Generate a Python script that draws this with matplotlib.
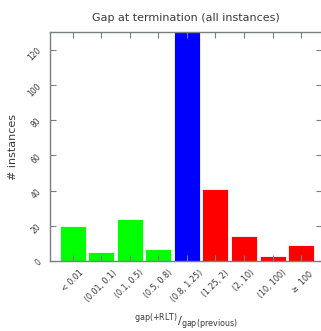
import matplotlib
matplotlib.use("Agg")
import matplotlib.pyplot as plt

# ratio bins of gap(+RLT)/gap(previous)
categories = ["< 0.01", "(0.01, 0.1)", "(0.1, 0.5)", "(0.5, 0.8)", "(0.8, 1.25)",
              "(1.25, 2)", "(2, 10)", "(10, 100)", r"$\geq$ 100"]
counts = [20, 5, 24, 7, 160, 41, 14, 3, 9]
bar_colors = ["#00ff00"] * 4 + ["#0000ff"] + ["#ff0000"] * 4
y_ticks = [0, 20, 40, 60, 80, 100, 120]

text_col = "#3a3a3a"
spine_col = "#7a7f80"

plt.rcParams["font.family"] = ["DejaVu Sans"]
plt.rcParams["mathtext.fontset"] = "dejavusans"

fig = plt.figure(figsize=(3.21, 3.31), dpi=100)
# axes run off the right edge, as in the reference
ax = fig.add_axes([0.156, 0.211, 0.846, 0.692])

x = list(range(len(categories)))
ax.bar(x, counts, width=0.91, color=bar_colors, edgecolor="white", linewidth=0.6)

ax.set_xlim(-0.79, 8.72)
ax.set_ylim(0, 130)
ax.set_xticks(x)
ax.set_xticklabels(categories, rotation=45, ha="center", fontsize=5.8, color=text_col)
ax.set_yticks(y_ticks)
ax.set_yticklabels([str(v) for v in y_ticks], rotation=45, fontsize=5.5, color=text_col)

for s in ax.spines.values():
    s.set_color(spine_col)
    s.set_linewidth(1.0)
ax.tick_params(direction="in", top=True, right=True, length=4, width=0.8,
               color=spine_col, pad=5)

ax.set_title("Gap at termination (all instances)", fontsize=8, color=text_col, pad=8)
ax.set_ylabel("# instances", fontsize=8, color=text_col, labelpad=6)
ax.set_xlabel(r"$^{\mathrm{gap(+RLT)}}/_{\mathrm{gap(previous)}}$", fontsize=8.2,
              color=text_col, labelpad=5)

fig.savefig("out.png", dpi=100)
